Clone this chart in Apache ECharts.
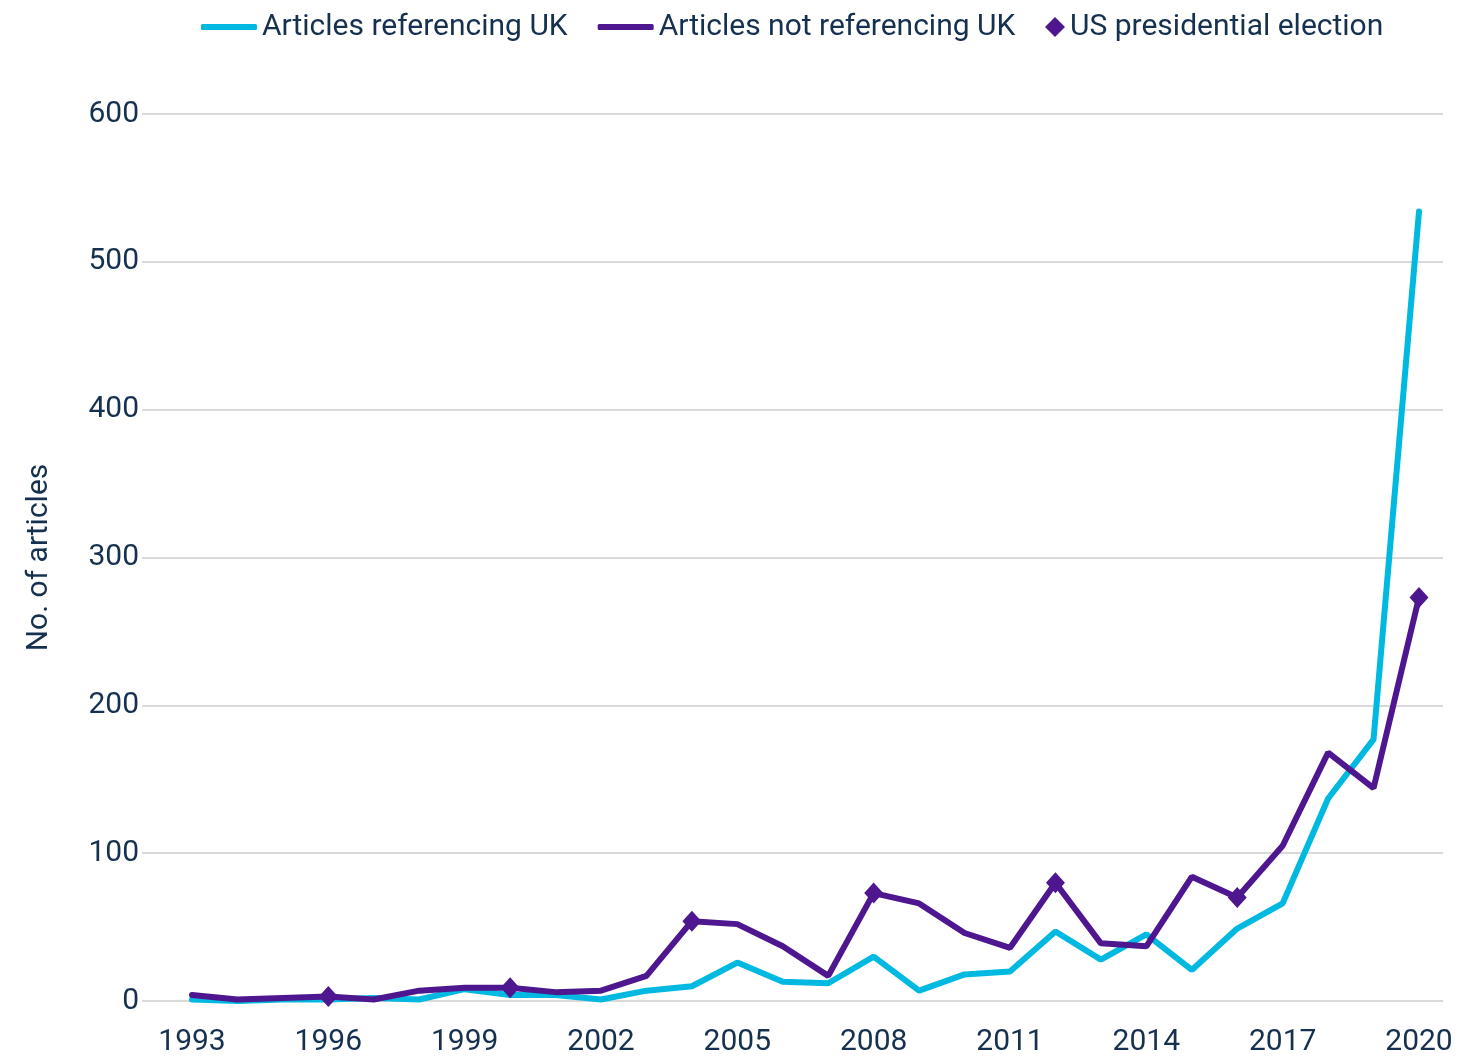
<!DOCTYPE html>
<html>
<head>
<meta charset="utf-8">
<script src="https://cdn.jsdelivr.net/npm/echarts@6/dist/echarts.min.js"></script>
<style>
  html, body { margin: 0; padding: 0; background: #fff; }
  #container { width: 1481px; height: 1057px; }
</style>
</head>
<body>
<div id="container"></div>
<script>
// 年份
const years = ['1993', '1994', '1995', '1996', '1997', '1998', '1999', '2000', '2001', '2002',
  '2003', '2004', '2005', '2006', '2007', '2008', '2009', '2010', '2011', '2012',
  '2013', '2014', '2015', '2016', '2017', '2018', '2019', '2020']
// Articles referencing UK
const ukArticles = [1, 0, 1, 1, 2, 1, 8, 4, 4, 1,
  7, 10, 26, 13, 12, 30, 7, 18, 20, 47,
  28, 45, 21, 49, 66, 137, 177, 534]
// Articles not referencing UK
const nonUkArticles = [4, 1, 2, 3, 1, 7, 9, 9, 6, 7,
  17, 54, 52, 37, 17, 73, 66, 46, 36, 80,
  39, 37, 84, 70, 105, 168, 144, 273]
// 美国总统选举年份
const electionYears = ['1996', '2000', '2004', '2008', '2012', '2016', '2020']
// Y 轴刻度
const yTicks = [0, 100, 200, 300, 400, 500, 600]

const textColor = '#16304f'
const fontFamily = 'Roboto, sans-serif'

// 选举年的标记点，取 nonUkArticles 的值
const electionPoints = years.map((y, i) => (electionYears.includes(y) ? nonUkArticles[i] : null))

var myChart = echarts.init(document.getElementById('container'))
const option = {
  animation: false,
  textStyle: { fontFamily: fontFamily, color: textColor },
  legend: [
    {
      left: 196,
      top: 7,
      icon: 'roundRect',
      itemWidth: 56,
      itemHeight: 6,
      itemGap: 30,
      textStyle: { fontSize: 30, color: textColor, fontFamily: fontFamily },
      data: ['Articles referencing UK', 'Articles not referencing UK']
    },
    {
      left: 1040,
      top: 7,
      itemWidth: 20,
      itemHeight: 20,
      textStyle: { fontSize: 30, color: textColor, fontFamily: fontFamily },
      data: ['US presidential election']
    }
  ],
  grid: [
    // 背景网格线和 Y 轴标签
    { left: 142, right: 38, top: 114, bottom: 56 },
    // 数据绘图区
    { left: 192, right: 62, top: 114, bottom: 56 }
  ],
  xAxis: [
    { gridIndex: 0, type: 'value', show: false, min: 0, max: 1 },
    {
      gridIndex: 1,
      type: 'category',
      boundaryGap: false,
      data: years,
      axisLine: { show: false },
      axisTick: { show: false },
      axisLabel: {
        interval: 2,
        margin: 26,
        fontSize: 30,
        color: textColor,
        fontFamily: fontFamily
      }
    }
  ],
  yAxis: [
    {
      gridIndex: 0,
      type: 'value',
      min: yTicks[0],
      max: yTicks[yTicks.length - 1],
      interval: 100,
      name: 'No. of articles',
      nameLocation: 'middle',
      nameGap: 88,
      nameTextStyle: { fontSize: 30, color: textColor, fontFamily: fontFamily },
      axisLine: { show: false },
      axisTick: { show: false },
      axisLabel: { margin: 3, fontSize: 30, color: textColor, fontFamily: fontFamily },
      splitLine: { lineStyle: { color: '#d9d9d9', width: 2 } }
    },
    {
      gridIndex: 1,
      type: 'value',
      min: yTicks[0],
      max: yTicks[yTicks.length - 1],
      show: false,
      splitLine: { show: false }
    }
  ],
  series: [
    {
      name: 'Articles referencing UK',
      type: 'line',
      xAxisIndex: 1,
      yAxisIndex: 1,
      data: ukArticles,
      symbol: 'none',
      color: '#00b9e0',
      lineStyle: { width: 6, color: '#00b9e0', cap: 'round' }
    },
    {
      name: 'Articles not referencing UK',
      type: 'line',
      xAxisIndex: 1,
      yAxisIndex: 1,
      data: nonUkArticles,
      symbol: 'none',
      color: '#4e1790',
      lineStyle: { width: 6, color: '#4e1790', cap: 'round' }
    },
    {
      name: 'US presidential election',
      type: 'scatter',
      xAxisIndex: 1,
      yAxisIndex: 1,
      data: electionPoints,
      symbol: 'diamond',
      symbolSize: [19, 21],
      z: 5,
      itemStyle: { color: '#4e1790', opacity: 1 }
    }
  ]
}
myChart.setOption(option)
</script>
</body>
</html>
